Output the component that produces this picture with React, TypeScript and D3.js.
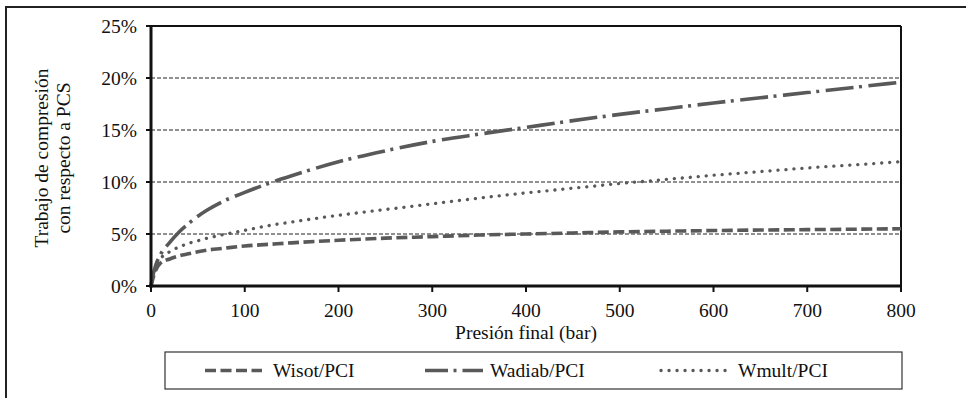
import React from "react";
import * as d3 from "d3";

// Final pressure (bar) sample points
const pressure = [0, 2, 5, 10, 20, 30, 40, 50, 60, 75, 100, 125, 150, 200, 250, 300, 350, 400, 450, 500, 550, 600, 650, 700, 750, 800];

// Compression work relative to PCS (%)
const wisot = [0, 0.7, 1.5, 2.2, 2.6, 2.9, 3.1, 3.3, 3.45, 3.6, 3.85, 4.0, 4.15, 4.4, 4.6, 4.75, 4.9, 5.0, 5.1, 5.2, 5.27, 5.33, 5.38, 5.42, 5.46, 5.5];
const wadiab = [0, 1.0, 2.0, 3.0, 4.2, 5.2, 6.0, 6.7, 7.3, 8.05, 9.0, 9.85, 10.6, 11.95, 13.0, 13.9, 14.6, 15.25, 15.9, 16.5, 17.05, 17.6, 18.1, 18.6, 19.1, 19.6];
const wmult = [0, 0.9, 1.8, 2.6, 3.3, 3.75, 4.1, 4.35, 4.6, 4.9, 5.35, 5.8, 6.15, 6.8, 7.35, 7.9, 8.45, 8.95, 9.4, 9.85, 10.25, 10.65, 11.0, 11.35, 11.65, 11.95];

const seriesNames = ["Wisot/PCI", "Wadiab/PCI", "Wmult/PCI"];
const xTicks = [0, 100, 200, 300, 400, 500, 600, 700, 800];
const yTicks = [0, 5, 10, 15, 20, 25];
const yTitle = ["Trabajo de compresión", "con respecto a PCS"];
const xTitle = "Presión final (bar)";

const W = 966;
const H = 398;
const plot = { left: 151, right: 901, top: 26, bottom: 286 };
const textStyle = { fontFamily: "'Liberation Serif', 'DejaVu Serif', serif", fontSize: "19.5px" };
const lineColor = "#595959";

const styles = [
  { dash: "11 4.5", legendDash: "11 4.5", cap: "butt" as const, width: 3.6 },
  { dash: "28 5.5 3 6.5", legendDash: "23 5.5 3 6", cap: "butt" as const, width: 3.6 },
  { dash: "0.1 7.9", legendDash: "0.1 7.9", cap: "round" as const, width: 3.3 },
];

export default function App() {
  const x = d3.scaleLinear().domain([0, 800]).range([plot.left, plot.right]);
  const y = d3.scaleLinear().domain([0, 25]).range([plot.bottom, plot.top]);
  const line = d3
    .line<number>()
    .x((_, i) => x(pressure[i]))
    .y((v) => y(v))
    .curve(d3.curveMonotoneX);
  const series = [wisot, wadiab, wmult];

  const legendItems = [
    { x0: 205, x1: 262, tx: 273 },
    { x0: 425, x1: 483, tx: 490 },
    { x0: 661, x1: 730, tx: 738 },
  ];

  return (
    <svg width={W} height={H} style={{ position: "absolute", left: 0, top: 0, background: "#fff" }}>
      <rect x={0} y={0} width={W} height={H} fill="#fff" />
      {/* outer frame */}
      <rect x={6} y={7} width={W + 20} height={H + 20} fill="none" stroke="#222" strokeWidth={2} />

      {/* horizontal gridlines */}
      {yTicks
        .filter((t) => t > 0 && t < 25)
        .map((t) => (
          <line
            key={"g" + t}
            x1={plot.left}
            x2={plot.right}
            y1={y(t)}
            y2={y(t)}
            stroke="#222"
            strokeWidth={1}
            strokeDasharray="4 2"
          />
        ))}

      {/* plot frame */}
      <line x1={plot.left} x2={plot.right} y1={plot.top} y2={plot.top} stroke="#111" strokeWidth={2} />
      <line x1={plot.right} x2={plot.right} y1={plot.top} y2={plot.bottom} stroke="#111" strokeWidth={2} />

      {/* series */}
      {series.map((s, i) => (
        <path
          key={seriesNames[i]}
          d={line(s) || ""}
          fill="none"
          stroke={lineColor}
          strokeWidth={styles[i].width}
          strokeDasharray={styles[i].dash}
          strokeLinecap={styles[i].cap}
        />
      ))}

      {/* axes */}
      <line x1={plot.left} x2={plot.left} y1={plot.top - 1} y2={plot.bottom + 1.5} stroke="#111" strokeWidth={3} />
      <line x1={plot.left - 1.5} x2={plot.right + 1} y1={plot.bottom} y2={plot.bottom} stroke="#111" strokeWidth={3} />

      {yTicks.map((t) => (
        <g key={"y" + t}>
          <line x1={plot.left - 5} x2={plot.left} y1={y(t)} y2={y(t)} stroke="#111" strokeWidth={2} />
          <text x={137} y={y(t) + 7} textAnchor="end" style={textStyle} fill="#111">
            {t}%
          </text>
        </g>
      ))}

      {xTicks.map((t) => (
        <g key={"x" + t}>
          <line x1={x(t)} x2={x(t)} y1={plot.bottom} y2={plot.bottom + 6} stroke="#111" strokeWidth={2} />
          <text x={x(t)} y={317} textAnchor="middle" style={textStyle} fill="#111">
            {t}
          </text>
        </g>
      ))}

      <text x={(plot.left + plot.right) / 2} y={339} textAnchor="middle" style={textStyle} fill="#111">
        {xTitle}
      </text>

      <g transform={`translate(0, ${(plot.top + plot.bottom) / 2 + 2}) rotate(-90)`}>
        <text x={0} y={48} textAnchor="middle" style={textStyle} fill="#111">
          {yTitle[0]}
        </text>
        <text x={0} y={70} textAnchor="middle" style={textStyle} fill="#111">
          {yTitle[1]}
        </text>
      </g>

      {/* legend */}
      <rect x={165} y={352} width={737} height={37} fill="#fff" stroke="#333" strokeWidth={1.2} />
      {legendItems.map((it, i) => (
        <g key={"l" + i}>
          <line
            x1={it.x0}
            x2={it.x1}
            y1={370.5}
            y2={370.5}
            stroke={lineColor}
            strokeWidth={styles[i].width}
            strokeDasharray={styles[i].legendDash}
            strokeLinecap={styles[i].cap}
          />
          <text x={it.tx} y={377} style={textStyle} fill="#111">
            {seriesNames[i]}
          </text>
        </g>
      ))}
    </svg>
  );
}
